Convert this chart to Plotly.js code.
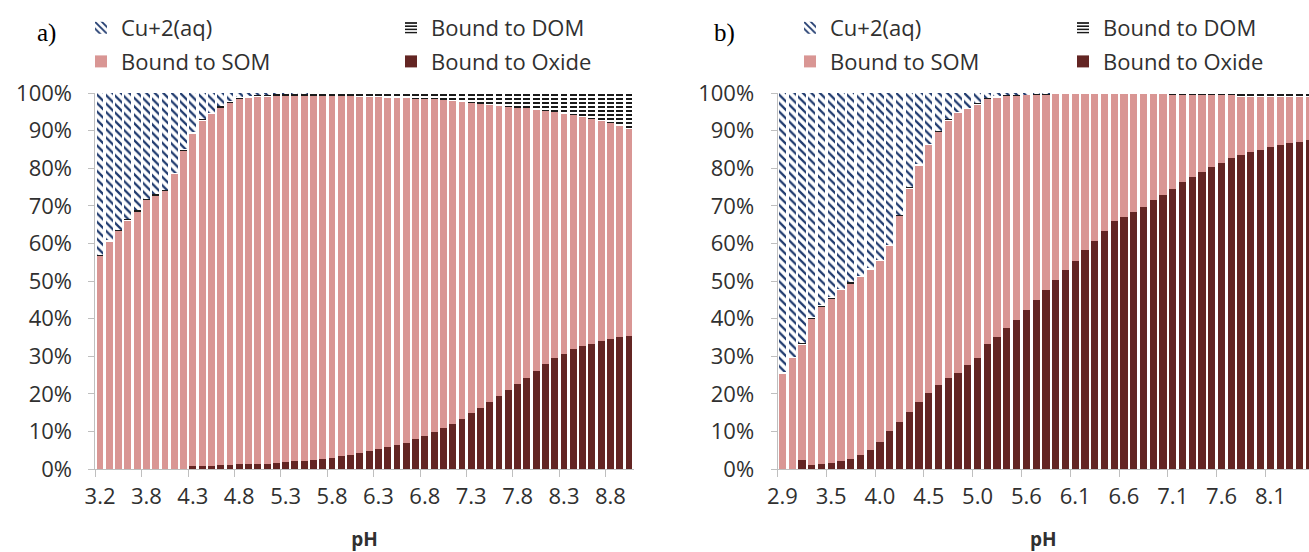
<!DOCTYPE html>
<html>
<head>
<meta charset="utf-8">
<script src="https://cdn.plot.ly/plotly-3.0.1.min.js"></script>
<style>html,body{margin:0;padding:0;background:#fff;overflow:hidden}#chart{width:1309px;height:552px}</style>
</head>
<body>
<div id="chart"></div>
<script>
// ---------- Data ----------
var seriesNames = ["Cu+2(aq)", "Bound to DOM", "Bound to SOM", "Bound to Oxide"];

// Panel a
var phA = ["3.2","3.3","3.4","3.5","3.7","3.8","3.9","4.0","4.1","4.2",
           "4.3","4.4","4.5","4.6","4.7","4.8","4.9","5.0","5.1","5.2",
           "5.3","5.4","5.5","5.6","5.7","5.8","5.9","6.0","6.1","6.2",
           "6.3","6.4","6.5","6.6","6.7","6.8","6.9","7.0","7.1","7.2",
           "7.3","7.4","7.5","7.6","7.7","7.8","7.9","8.0","8.1","8.2",
           "8.3","8.4","8.5","8.6","8.7","8.8","8.9","9.0"];
var oxideA = [0,0,0,0,0,0,0,0,0,0,
              0.8,0.9,0.9,1.0,1.1,1.2,1.2,1.3,1.4,1.5,
              1.8,2.0,2.1,2.3,2.6,3.0,3.4,3.7,4.3,4.8,
              5.4,5.9,6.4,7.0,7.9,8.9,9.8,10.8,11.9,13.3,
              14.8,16.3,17.8,19.5,21.0,22.7,24.3,26.0,27.8,29.4,
              30.7,31.8,32.6,33.3,34.0,34.6,35.2,35.4];
var somA = [56.6,60.5,63.2,66.0,68.4,71.5,72.7,73.9,78.4,84.6,
            88.2,91.7,93.4,95.1,96.3,97.1,97.4,97.6,97.6,97.6,
            97.3,97.1,97.1,96.9,96.6,96.2,95.7,95.4,94.7,94.1,
            93.5,92.9,92.3,91.6,90.6,89.5,88.5,87.3,86.1,84.4,
            82.5,80.8,79.0,77.1,75.4,73.4,71.6,69.6,67.5,65.6,
            63.8,62.3,60.9,59.7,58.6,57.3,55.9,54.9];
var domA = [0.4,0.4,0.4,0.4,0.4,0.4,0.4,0.4,0.4,0.5,
            0.5,0.5,0.5,0.5,0.5,0.6,0.6,0.6,0.6,0.6,
            0.6,0.6,0.6,0.7,0.8,0.8,0.9,0.9,1.0,1.1,
            1.1,1.2,1.3,1.4,1.5,1.6,1.7,1.9,2.0,2.3,
            2.7,2.9,3.2,3.4,3.6,3.9,4.1,4.4,4.7,5.0,
            5.5,5.9,6.5,7.0,7.4,8.1,8.9,9.7];
var cuA = [43.0,39.1,36.4,33.6,31.2,28.1,26.9,25.7,21.2,14.9,
           10.5,6.9,5.2,3.4,2.1,1.1,0.8,0.5,0.4,0.3,
           0.3,0.3,0.2,0.1,0,0,0,0,0,0,
           0,0,0,0,0,0,0,0,0,0,
           0,0,0,0,0,0,0,0,0,0,
           0,0,0,0,0,0,0,0];

// Panel b
var phB = ["2.9","3.0","3.1","3.3","3.4","3.5","3.6","3.7","3.8","3.9",
           "4.0","4.1","4.2","4.3","4.4","4.5","4.6","4.7","4.8","4.9",
           "5.0","5.1","5.2","5.3","5.5","5.6","5.7","5.8","5.9","6.0",
           "6.1","6.2","6.3","6.4","6.5","6.6","6.7","6.8","6.9","7.0",
           "7.1","7.2","7.3","7.4","7.5","7.6","7.7","7.8","7.9","8.0",
           "8.1","8.2","8.3","8.4","8.5"];
var oxideB = [0,0,2.4,1.0,1.2,1.6,2.0,2.7,3.7,5.1,
              7.3,10.1,12.6,15.2,17.9,20.1,22.3,24.1,25.6,27.6,
              29.4,33.3,35.1,37.6,39.7,42.2,45.0,47.5,50.3,53.0,
              55.4,58.3,60.7,63.4,65.9,67.1,68.4,69.8,71.5,72.9,
              74.6,76.2,77.6,78.9,80.4,81.5,82.6,83.6,84.4,84.9,
              85.7,86.2,86.6,87.1,87.5];
var somB = [25.4,29.5,30.7,39.0,41.9,43.7,45.5,46.6,47.3,47.9,
            48.0,49.1,54.6,59.4,62.7,66.0,67.2,68.5,69.0,68.1,
            67.5,65.0,63.7,61.6,59.6,57.2,54.5,52.1,49.4,46.8,
            44.4,41.5,39.1,36.4,33.9,32.7,31.4,30.0,28.3,26.9,
            25.0,23.4,22.0,20.7,19.2,18.1,17.0,15.4,14.6,14.1,
            13.3,12.8,12.4,11.9,11.5];
var domB = [0.4,0.4,0.4,0.4,0.4,0.4,0.4,0.4,0.4,0.4,
            0.4,0.4,0.4,0.4,0.4,0.4,0.4,0.4,0.4,0.4,
            0.4,0.4,0.4,0.4,0.2,0.2,0.2,0.2,0.2,0.2,
            0.2,0.2,0.2,0.2,0.2,0.2,0.2,0.2,0.2,0.2,
            0.4,0.4,0.4,0.4,0.4,0.4,0.4,1.0,1.0,1.0,
            1.0,1.0,1.0,1.0,1.0];
var cuB = [74.2,70.1,66.5,59.6,56.5,54.3,52.1,50.3,48.6,46.6,
           44.3,40.4,32.4,25.0,19.0,13.5,10.1,7.0,5.0,3.9,
           2.7,1.3,0.8,0.4,0.5,0.4,0.3,0.2,0.1,0,
           0,0,0,0,0,0,0,0,0,0,
           0,0,0,0,0,0,0,0,0,0,
           0,0,0,0,0];

var panelLabels = ["a)", "b)"];
var axisTitle = "pH";

// ---------- Styles ----------
var FONT = "Open Sans, DejaVu Sans, sans-serif";
var TXT = "#303030";
var AXC = "#bfbfbf";
var SOM_C = "#D99694";
var OX_C = "#632523";
var CU_C = "#1F3A6E";
var DOM_C = "#1a1a1a";

function traces(x, ox, som, dom, cu, xa, ya, legA, legB, tag) {
  var common = {type: "bar", x: x, xaxis: xa, yaxis: ya, hoverinfo: "skip"};
  return [
    Object.assign({}, common, {name: seriesNames[3], y: ox, legend: legB, legendgroup: tag + "ox", legendrank: 2,
      marker: {color: OX_C, line: {width: 0}}}),
    Object.assign({}, common, {name: seriesNames[2], y: som, legend: legA, legendgroup: tag + "som", legendrank: 2,
      marker: {color: SOM_C, line: {width: 0}}}),
    Object.assign({}, common, {name: seriesNames[1], y: dom, legend: legB, legendgroup: tag + "dom", legendrank: 1,
      marker: {color: "#ffffff", line: {width: 0},
        pattern: {shape: "-", fgcolor: DOM_C, bgcolor: "#ffffff", size: 4, solidity: 0.5}}}),
    Object.assign({}, common, {name: seriesNames[0], y: cu, legend: legA, legendgroup: tag + "cu", legendrank: 1,
      marker: {color: "#ffffff", line: {width: 0},
        pattern: {shape: "\\", fgcolor: CU_C, bgcolor: "#ffffff", size: 6, solidity: 0.38}}})
  ];
}

var data = [].concat(
  traces(phA, oxideA, somA, domA, cuA, "x", "y", "legend", "legend2", "a"),
  traces(phB, oxideB, somB, domB, cuB, "x2", "y2", "legend3", "legend4", "b")
);

function xax(domain, range, anchor) {
  return {
    domain: domain, anchor: anchor, type: "category", range: range,
    tickmode: "linear", tick0: 0, dtick: 5, tickson: "boundaries", tickangle: 0,
    ticks: "outside", ticklen: 7, tickcolor: AXC, tickwidth: 1,
    showline: true, linecolor: AXC, linewidth: 1, showgrid: false, zeroline: false,
    ticklabelstandoff: 8,
    tickfont: {family: FONT, size: 22, color: TXT},
    title: {text: "<b>" + axisTitle + "</b>", font: {family: FONT, size: 19, color: TXT}, standoff: 24},
    fixedrange: true
  };
}
function yax(anchor) {
  return {
    domain: [1 - 469 / 552, 1 - 93 / 552], anchor: anchor, range: [0, 100],
    tickmode: "linear", tick0: 0, dtick: 10, ticksuffix: "%",
    ticks: "outside", ticklen: 6, tickcolor: AXC, tickwidth: 1,
    showline: true, linecolor: AXC, linewidth: 1, showgrid: false, zeroline: false,
    ticklabelstandoff: 12,
    tickfont: {family: FONT, size: 22, color: TXT},
    fixedrange: true
  };
}
function leg(xpx) {
  return {
    x: xpx / 1309, y: 1 - 7 / 552, xanchor: "left", yanchor: "top", orientation: "v",
    traceorder: "grouped", tracegroupgap: 2, bgcolor: "rgba(0,0,0,0)",
    font: {family: FONT, size: 22, color: TXT}, itemclick: false, itemdoubleclick: false
  };
}

var layout = {
  width: 1309, height: 552,
  margin: {l: 0, r: 0, t: 0, b: 0},
  paper_bgcolor: "#ffffff", plot_bgcolor: "#ffffff",
  barmode: "stack", bargap: 0.26,
  showlegend: true,
  xaxis: xax([95.4 / 1309, 633.6 / 1309], [-0.5, 57.5], "y"),
  yaxis: yax("x"),
  xaxis2: xax([777.5 / 1309, 1], [-0.5, 53.96], "y2"),
  yaxis2: yax("x2"),
  legend: leg(81), legend2: leg(391), legend3: leg(790), legend4: leg(1063),
  annotations: [
    {text: panelLabels[0], xref: "paper", yref: "paper", x: 35 / 1309, y: 1 - 33 / 552,
     xanchor: "left", yanchor: "middle", showarrow: false,
     font: {family: "Liberation Serif, Times New Roman, serif", size: 25, color: "#000"}},
    {text: panelLabels[1], xref: "paper", yref: "paper", x: 712 / 1309, y: 1 - 33 / 552,
     xanchor: "left", yanchor: "middle", showarrow: false,
     font: {family: "Liberation Serif, Times New Roman, serif", size: 25, color: "#000"}}
  ],
  hovermode: false
};

Plotly.newPlot("chart", data, layout, {displayModeBar: false, staticPlot: true});
</script>
</body>
</html>
